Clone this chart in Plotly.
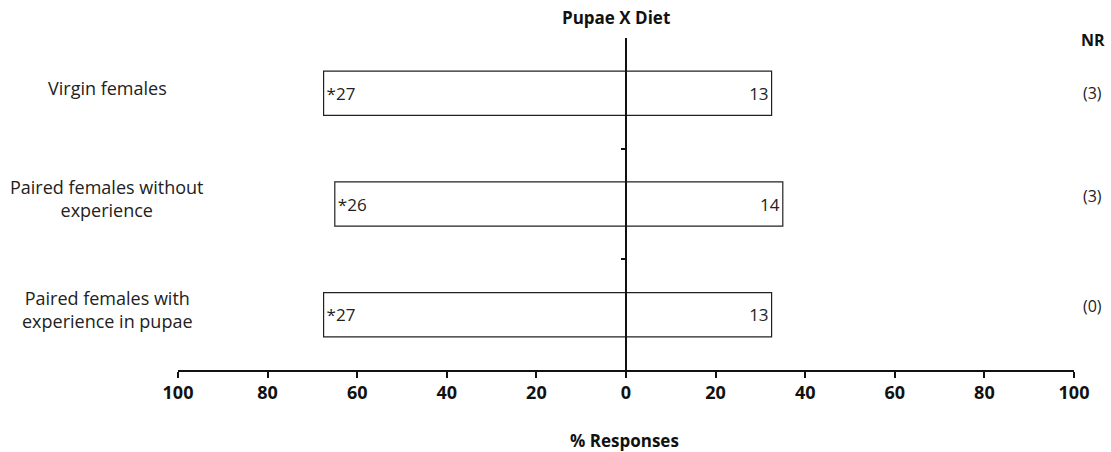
import plotly.graph_objects as go

# Choice test: females choosing between pupae and artificial diet
groups = ["Virgin females", "Paired females without<br>experience", "Paired females with<br>experience in pupae"]
pupae_counts = [27, 26, 27]
diet_counts = [13, 14, 13]
no_response = [3, 3, 0]
significant = [True, True, True]

tick_values = [-100, -80, -60, -40, -20, 0, 20, 40, 60, 80, 100]
tick_labels = [str(abs(v)) for v in tick_values]

totals = [p + d for p, d in zip(pupae_counts, diet_counts)]
pupae_pct = [-100 * p / t for p, t in zip(pupae_counts, totals)]
diet_pct = [100 * d / t for d, t in zip(diet_counts, totals)]
pupae_text = [("*" if s else "") + str(p) for p, s in zip(pupae_counts, significant)]
diet_text = [str(d) for d in diet_counts]

ypos = list(range(len(groups)))
FONT = "Open Sans"

fig = go.Figure()
bar_style = dict(
    orientation="h",
    width=0.4,
    marker=dict(color="white", line=dict(color="#222", width=1.2)),
    textposition="inside",
    insidetextanchor="end",
    textfont=dict(family=FONT, size=17, color="#222"),
    showlegend=False,
    hoverinfo="skip",
)
fig.add_trace(go.Bar(y=ypos, x=pupae_pct, text=pupae_text, **bar_style))
fig.add_trace(go.Bar(y=ypos, x=diet_pct, text=diet_text, **bar_style))

L, R, T, B = 178, 37, 38, 82
W, H = 1111, 452
PW, PH = W - L - R, H - T - B

annotations = []
for i, g in enumerate(groups):
    annotations.append(dict(
        text=g, xref="paper", yref="y", x=(107 - L) / PW, y=i - 0.05,
        xanchor="center", yanchor="middle", showarrow=False, align="center",
        font=dict(family=FONT, size=18, color="#222"),
    ))
nr_y = [0.0, 0.93, 1.92]
for yy, n in zip(nr_y, no_response):
    annotations.append(dict(
        text=f"({n})", xref="paper", yref="y", x=(1092 - L) / PW, y=yy, xanchor="center",
        yanchor="middle", showarrow=False, font=dict(family=FONT, size=16, color="#222"),
    ))
annotations.append(dict(
    text="<b>NR</b>", xref="paper", yref="paper", x=(1093 - L) / PW, y=1.0 - 2 / PH,
    xanchor="center", yanchor="middle", showarrow=False,
    font=dict(family=FONT, size=16, color="#111"),
))
annotations.append(dict(
    text="<b>Pupae X Diet</b>", xref="paper", yref="paper", x=(616 - L) / PW, y=1.0 + 20 / PH,
    xanchor="center", yanchor="middle", showarrow=False,
    font=dict(family=FONT, size=17, color="#111"),
))
annotations.append(dict(
    text="<b>% Responses</b>", xref="paper", yref="paper", x=(624 - L) / PW, y=-70 / PH,
    xanchor="center", yanchor="middle", showarrow=False,
    font=dict(family=FONT, size=17, color="#111"),
))

fig.update_layout(
    width=W, height=H,
    margin=dict(l=L, r=R, t=T, b=B, pad=0),
    paper_bgcolor="white", plot_bgcolor="white",
    barmode="relative",
    annotations=annotations,
    xaxis=dict(
        range=[-100, 100], tickvals=tick_values, ticktext=tick_labels,
        showgrid=False, zeroline=False, showline=True, linecolor="#111", linewidth=1.5,
        ticks="outside", ticklen=6, tickwidth=1.5, tickcolor="#111",
        tickfont=dict(family=FONT, size=18, color="#111", weight="bold"),
        fixedrange=True,
    ),
    yaxis=dict(
        range=[2.5, -0.5], anchor="free", position=0.5, side="left",
        tickvals=[0.5, 1.5], ticks="outside", ticklen=4, tickwidth=1.5, tickcolor="#111",
        showticklabels=False, showgrid=False, zeroline=False,
        showline=True, linecolor="#111", linewidth=1.5, fixedrange=True,
    ),
)

fig.write_html("out.html")
